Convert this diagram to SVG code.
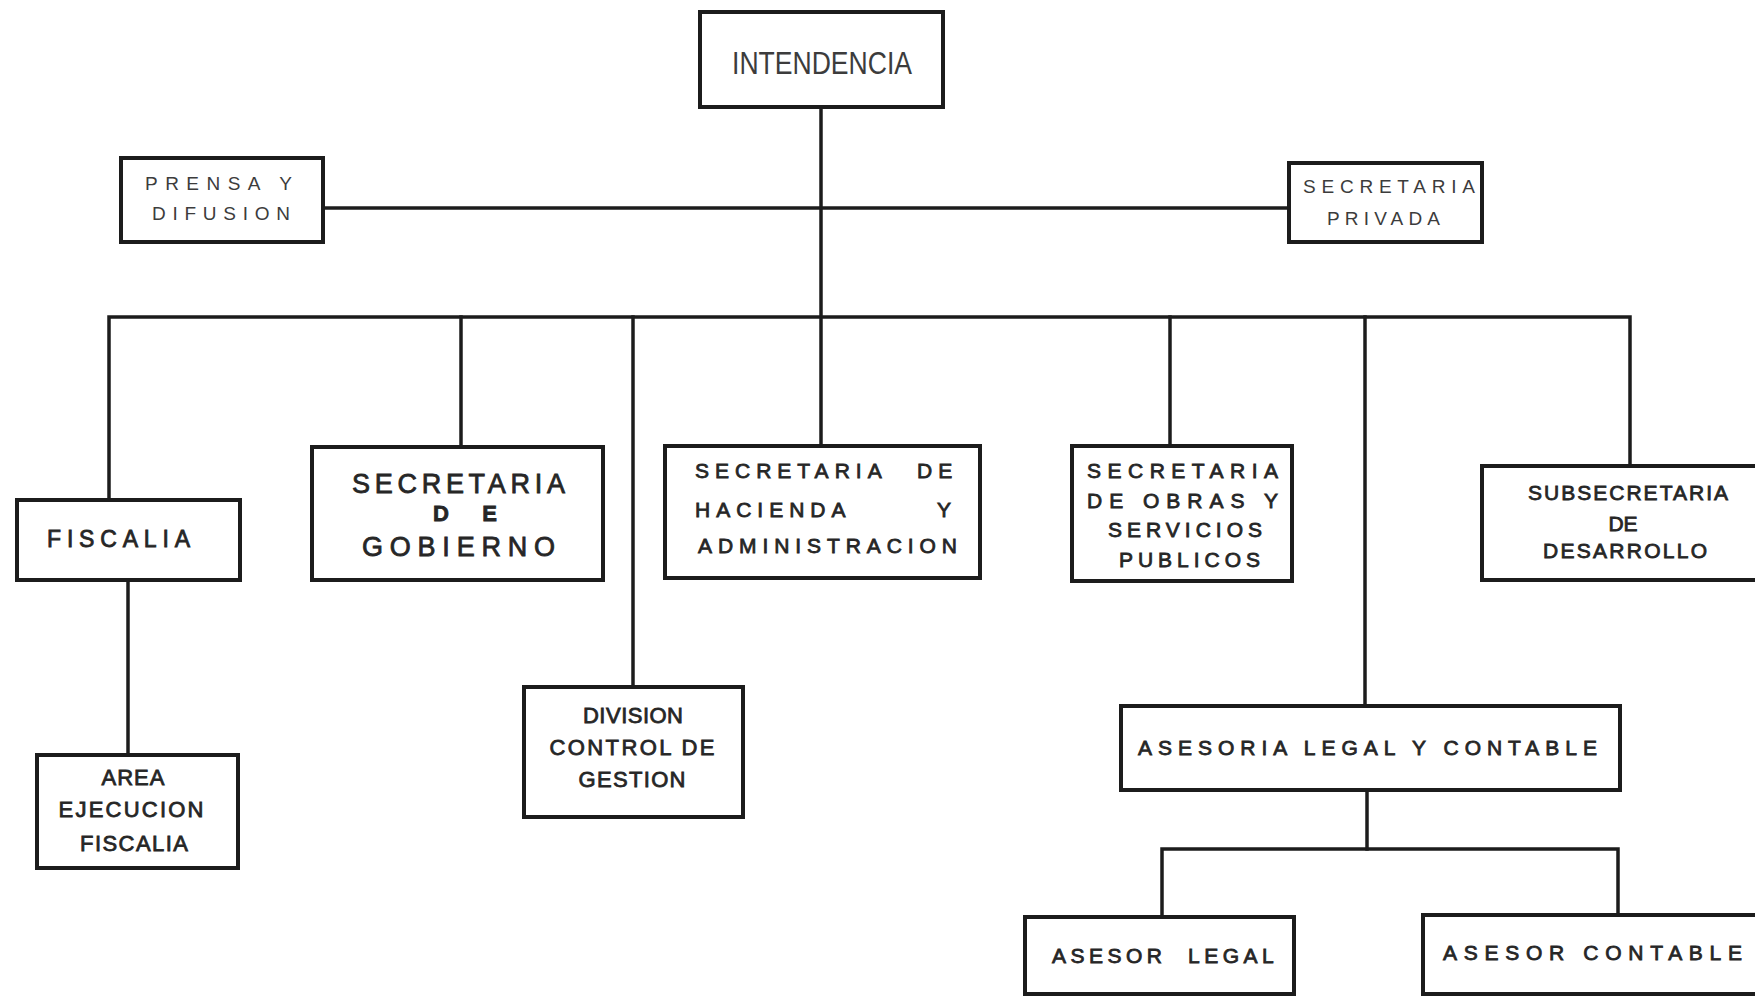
<svg xmlns="http://www.w3.org/2000/svg" width="1755" height="996" viewBox="0 0 1755 996">
<style>
.box{fill:#fff;stroke:#1c1c1c;stroke-width:4}
.ln{stroke:#1c1c1c;stroke-width:3.5;fill:none;stroke-linecap:square}
.t{font-family:"Liberation Sans",Arial,sans-serif;fill:#262626;stroke:#262626;stroke-width:0.8}
.lt{font-family:"Liberation Sans",Arial,sans-serif;fill:#3c3c3c}
.m{text-anchor:middle}
</style>
<rect width="1755" height="996" fill="#fff"/>
<g id="connectors">
<path class="ln" d="M821,107 V446"/>
<path class="ln" d="M323,208 H1289"/>
<path class="ln" d="M109,500 V317 H1630 V466"/>
<path class="ln" d="M461,317 V447"/>
<path class="ln" d="M633,317 V687"/>
<path class="ln" d="M1170,317 V446"/>
<path class="ln" d="M1365,317 V706"/>
<path class="ln" d="M128,580 V755"/>
<path class="ln" d="M1367,790 V849"/>
<path class="ln" d="M1162,917 V849 H1618 V915"/>
</g>
<g id="intendencia">
<rect class="box" x="700" y="12" width="243" height="95"/>
<text class="lt" x="732" y="74" font-size="32" textLength="180" lengthAdjust="spacingAndGlyphs">INTENDENCIA</text>
</g>
<g id="prensa">
<rect class="box" x="121" y="158" width="202" height="84"/>
<text class="lt" x="145" y="190" font-size="19" textLength="147">PRENSA Y</text>
<text class="lt" x="152" y="220" font-size="19" textLength="138">DIFUSION</text>
</g>
<g id="secretaria-privada">
<rect class="box" x="1289" y="163" width="193" height="79"/>
<text class="lt" x="1303" y="193" font-size="19" textLength="172">SECRETARIA</text>
<text class="lt" x="1327" y="225" font-size="19" textLength="113">PRIVADA</text>
</g>
<g id="fiscalia">
<rect class="box" x="17" y="500" width="223" height="80"/>
<text class="t" x="47" y="547" font-size="23" textLength="143">FISCALIA</text>
</g>
<g id="gobierno">
<rect class="box" x="312" y="447" width="291" height="133"/>
<text class="t" x="352" y="493" font-size="27" textLength="213">SECRETARIA</text>
<text class="t" x="433" y="521" font-size="22" font-weight="bold" textLength="64">D E</text>
<text class="t" x="362" y="556" font-size="27" textLength="193">GOBIERNO</text>
</g>
<g id="hacienda">
<rect class="box" x="665" y="446" width="315" height="132"/>
<text class="t" font-size="21" letter-spacing="6"><tspan x="695" y="478">SECRETARIA</tspan><tspan x="917" y="478">DE</tspan></text>
<text class="t" font-size="21" letter-spacing="6"><tspan x="695" y="517">HACIENDA</tspan><tspan x="937" y="517">Y</tspan></text>
<text class="t" x="698" y="553" font-size="21" textLength="259">ADMINISTRACION</text>
</g>
<g id="obras">
<rect class="box" x="1072" y="446" width="220" height="135"/>
<text class="t" x="1087" y="478" font-size="21" textLength="191">SECRETARIA</text>
<text class="t" x="1087" y="508" font-size="21" textLength="191">DE OBRAS Y</text>
<text class="t" x="1108" y="537" font-size="21" textLength="154">SERVICIOS</text>
<text class="t" x="1119" y="567" font-size="21" textLength="141">PUBLICOS</text>
</g>
<g id="subsecretaria">
<rect class="box" x="1482" y="466" width="290" height="114"/>
<text class="t m" x="1628" y="500" font-size="21" textLength="200">SUBSECRETARIA</text>
<text class="t m" x="1623" y="531" font-size="21">DE</text>
<text class="t m" x="1625" y="558" font-size="21" textLength="164">DESARROLLO</text>
</g>
<g id="area-ejecucion">
<rect class="box" x="37" y="755" width="201" height="113"/>
<text class="t m" x="133" y="785" font-size="22" textLength="63">AREA</text>
<text class="t m" x="131" y="817" font-size="22" textLength="145">EJECUCION</text>
<text class="t m" x="134" y="851" font-size="22" textLength="108">FISCALIA</text>
</g>
<g id="division">
<rect class="box" x="524" y="687" width="219" height="130"/>
<text class="t m" x="633" y="723" font-size="22" textLength="100">DIVISION</text>
<text class="t m" x="632" y="755" font-size="22" textLength="165">CONTROL DE</text>
<text class="t m" x="632" y="787" font-size="22" textLength="107">GESTION</text>
</g>
<g id="asesoria">
<rect class="box" x="1121" y="706" width="499" height="84"/>
<text class="t" x="1138" y="755" font-size="21" textLength="459">ASESORIA LEGAL Y CONTABLE</text>
</g>
<g id="asesor-legal">
<rect class="box" x="1025" y="917" width="269" height="77"/>
<text class="t" font-size="21" letter-spacing="4.5"><tspan x="1052" y="963">ASESOR</tspan><tspan x="1188" y="963">LEGAL</tspan></text>
</g>
<g id="asesor-contable">
<rect class="box" x="1423" y="915" width="350" height="79"/>
<text class="t" x="1443" y="960" font-size="21" textLength="299">ASESOR CONTABLE</text>
</g>
</svg>
